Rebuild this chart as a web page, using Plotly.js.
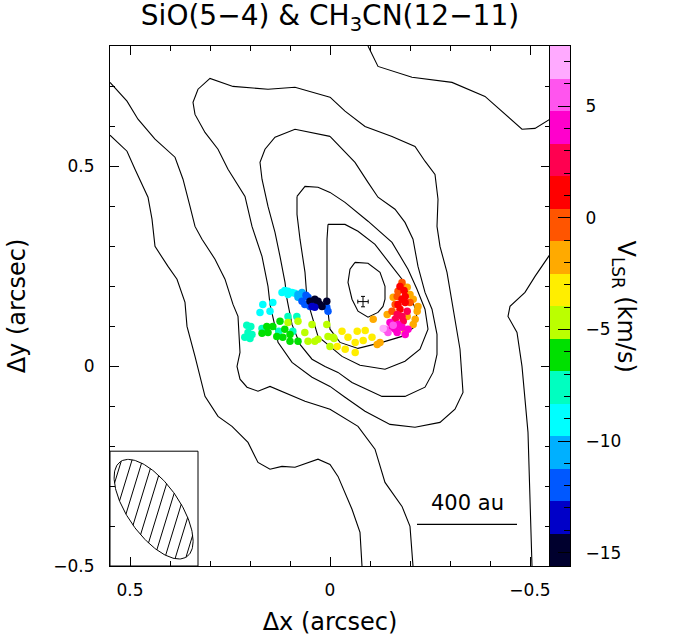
<!DOCTYPE html>
<html>
<head>
<meta charset="utf-8">
<script src="https://cdn.plot.ly/plotly-3.0.1.min.js"></script>
<style>
  html, body { margin: 0; padding: 0; background: #fff; }
  #chart { width: 676px; height: 643px; }
</style>
</head>
<body>
<div id="chart"></div>
<script>
// ---- SiO(5-4) integrated intensity contours (offsets in arcsec, x = east) ----
// open contours that leave the field
const sioArcSEX = [0.55, 0.5075, 0.4875, 0.455, 0.445, 0.4375, 0.405, 0.3825, 0.3625, 0.3575, 0.3375, 0.32, 0.3125, 0.28, 0.245, 0.205, 0.18, 0.15, 0.12, 0.0875, 0.03, 0.0, -0.02, -0.055, -0.075, -0.08];
const sioArcSEY = [0.577, 0.537, 0.492, 0.422, 0.367, 0.299, 0.249, 0.217, 0.159, 0.099, 0.024, -0.041, -0.076, -0.126, -0.151, -0.191, -0.241, -0.258, -0.251, -0.253, -0.233, -0.246, -0.276, -0.358, -0.416, -0.5];
const sioArcEX = [0.55, 0.5075, 0.48, 0.4375, 0.3875, 0.3675, 0.35, 0.3375, 0.32, 0.2875, 0.2625, 0.2425, 0.23, 0.225, 0.2325, 0.225, 0.2075, 0.18, 0.15, 0.12, 0.0625, 0.0, -0.07, -0.1125, -0.1375, -0.18, -0.2, -0.2075];
const sioArcEY = [0.709, 0.662, 0.617, 0.567, 0.522, 0.467, 0.399, 0.349, 0.317, 0.267, 0.217, 0.154, 0.124, 0.034, -0.001, -0.033, -0.053, -0.063, -0.051, -0.063, -0.088, -0.108, -0.151, -0.208, -0.291, -0.351, -0.401, -0.5];
const sioArcNWX = [-0.095, -0.12, -0.205, -0.305, -0.3875, -0.43, -0.48, -0.5125, -0.55];
const sioArcNWY = [0.8, 0.749, 0.722, 0.709, 0.674, 0.637, 0.592, 0.594, 0.617];
const sioArcWX = [-0.55, -0.5125, -0.4875, -0.45, -0.445, -0.4675, -0.48, -0.495, -0.5, -0.505];
const sioArcWY = [0.279, 0.224, 0.184, 0.149, 0.124, 0.084, -0.001, -0.166, -0.333, -0.5];
// closed contours around the peak, outer to inner
const sioLoop1X = [0, -0.0375, -0.0875, -0.155, -0.2125, -0.2375, -0.2625, -0.27, -0.2675, -0.275, -0.2925, -0.305, -0.325, -0.3325, -0.3125, -0.275, -0.2125, -0.15, -0.0875, -0.0375, 0, 0.045, 0.095, 0.13, 0.1375, 0.15, 0.155, 0.17, 0.195, 0.2125, 0.255, 0.28, 0.3125, 0.3375, 0.3425, 0.33, 0.3, 0.2425, 0.155, 0.0875, 0];
const sioLoop1Y = [0.672, 0.637, 0.599, 0.574, 0.549, 0.512, 0.479, 0.417, 0.349, 0.299, 0.234, 0.159, 0.042, -0.066, -0.108, -0.141, -0.153, -0.146, -0.113, -0.078, -0.051, -0.028, 0.009, 0.059, 0.099, 0.154, 0.199, 0.274, 0.349, 0.424, 0.492, 0.542, 0.584, 0.629, 0.659, 0.692, 0.719, 0.699, 0.692, 0.697, 0.672];
const sioLoop2X = [0, -0.03, -0.0625, -0.095, -0.12, -0.1625, -0.1875, -0.2075, -0.22, -0.2375, -0.255, -0.2675, -0.2675, -0.2575, -0.2375, -0.1875, -0.13, -0.055, -0.02, 0.0125, 0.045, 0.075, 0.095, 0.1075, 0.1125, 0.125, 0.1375, 0.155, 0.17, 0.175, 0.1625, 0.1375, 0.0875, 0];
const sioLoop2Y = [0.574, 0.542, 0.509, 0.459, 0.422, 0.392, 0.359, 0.317, 0.249, 0.184, 0.142, 0.079, 0.029, -0.016, -0.053, -0.076, -0.076, -0.041, -0.016, -0.001, 0.017, 0.054, 0.104, 0.167, 0.209, 0.274, 0.334, 0.399, 0.467, 0.509, 0.542, 0.572, 0.592, 0.574];
const sioLoop3X = [0.0825, 0.0625, 0.03, 0, -0.0375, -0.095, -0.155, -0.195, -0.2175, -0.2375, -0.245, -0.225, -0.1875, -0.1375, -0.075, -0.03, 0, 0.03, 0.0575, 0.0625, 0.075, 0.0825, 0.0825];
const sioLoop3Y = [0.424, 0.449, 0.447, 0.434, 0.409, 0.362, 0.309, 0.242, 0.192, 0.142, 0.092, 0.042, 0.012, -0.008, 0.002, 0.024, 0.049, 0.074, 0.167, 0.234, 0.317, 0.379, 0.424];
const sioLoop4X = [0.005, -0.0375, -0.07, -0.1125, -0.155, -0.18, -0.2, -0.2175, -0.2125, -0.18, -0.13, -0.07, -0.025, 0, 0.0075, 0.0075, 0.0075, 0.005];
const sioLoop4Y = [0.354, 0.354, 0.337, 0.304, 0.249, 0.217, 0.174, 0.134, 0.099, 0.074, 0.059, 0.044, 0.059, 0.092, 0.159, 0.267, 0.317, 0.354];
const sioLoop5X = [-0.0625, -0.095, -0.125, -0.1375, -0.1375, -0.1325, -0.12, -0.095, -0.07, -0.055, -0.045, -0.05, -0.0625];
const sioLoop5Y = [0.259, 0.257, 0.234, 0.199, 0.167, 0.149, 0.134, 0.122, 0.137, 0.167, 0.209, 0.242, 0.259];

// ---- CH3CN(12-11) emission spots: position and LSR velocity (km/s) ----
const spotX = [
  0.120, 0.113, 0.105, 0.095, 0.088, 0.105, 0.055,
  0.080, 0.070, 0.080, 0.068,
  0.070, 0.063, 0.055, 0.060, 0.050, 0.008, 0.005,
  0.050, 0.038, 0.030, 0.025, 0.033, 0.008, 0.020,
  0.045, 0.038,
  0.168, 0.143, 0.175, 0.150,
  0.208, 0.198, 0.205, 0.195, 0.213, 0.200, 0.170, 0.105, 0.083, 0.128, 0.093,
  0.125, 0.158, 0.143, 0.170, 0.155, 0.133, 0.118, 0.100, 0.100, 0.080, 0.113,
  0.105, 0.080, 0.045, 0.008, 0.063, 0.030, 0.038, 0.055, 0.005, -0.008, 0.000, -0.010,
  -0.030, -0.045, -0.068, -0.088, -0.083, -0.105, -0.063, -0.038, -0.018, -0.063,
  -0.108, -0.118, -0.125, -0.143, -0.218, -0.220, -0.208, -0.213, -0.193, -0.188, -0.183, -0.193, -0.200, -0.208, -0.158,
  -0.168, -0.170, -0.163, -0.200, -0.180, -0.155,
  -0.175, -0.188, -0.180, -0.188, -0.175, -0.170, -0.185,
  -0.168, -0.180, -0.193, -0.163, -0.183,
  -0.150, -0.155, -0.163, -0.170, -0.180, -0.188, -0.168, -0.195,
  -0.138, -0.145, -0.158,
  -0.133
];
const spotY = [
  0.184, 0.189, 0.187, 0.184, 0.182, 0.179, 0.154,
  0.179, 0.184, 0.172, 0.172,
  0.162, 0.154, 0.172, 0.177, 0.149, 0.147, 0.137,
  0.162, 0.167, 0.162, 0.154, 0.154, 0.162, 0.149,
  0.149, 0.147,
  0.154, 0.159, 0.134, 0.137,
  0.102, 0.099, 0.084, 0.079, 0.072, 0.069, 0.094, 0.124, 0.124, 0.087, 0.087,
  0.112, 0.099, 0.099, 0.082, 0.084, 0.074, 0.072, 0.079, 0.062, 0.062, 0.092,
  0.109, 0.112, 0.104, 0.104, 0.084, 0.067, 0.062, 0.062, 0.074, 0.072, 0.049, 0.069,
  0.087, 0.072, 0.087, 0.089, 0.064, 0.072, 0.059, 0.042, 0.049, 0.034,
  0.117, 0.054, 0.059, 0.129, 0.137, 0.149, 0.104, 0.117, 0.124, 0.084, 0.199, 0.197, 0.179, 0.167, 0.172,
  0.174, 0.187, 0.154, 0.159, 0.209, 0.137,
  0.199, 0.174, 0.167, 0.159, 0.142, 0.154, 0.189,
  0.129, 0.124, 0.137, 0.117, 0.112,
  0.109, 0.097, 0.092, 0.104, 0.097, 0.079, 0.084, 0.092,
  0.092, 0.084, 0.102,
  0.094
];
const spotV = [
  -9.0, -9.0, -9.0, -9.0, -9.0, -9.0, -9.0,
  -10.5, -10.5, -10.5, -10.5,
  -12.0, -12.0, -12.0, -12.0, -12.0, -12.0, -12.0,
  -14.9, -14.9, -14.9, -14.9, -14.9, -14.9, -14.9,
  -13.4, -13.4,
  -9.0, -9.0, -9.0, -9.0,
  -7.6, -7.6, -7.6, -7.6, -7.6, -7.6, -7.6, -7.6, -7.6, -7.6, -7.6,
  -6.1, -6.1, -6.1, -6.1, -6.1, -6.1, -6.1, -6.1, -6.1, -6.1, -6.1,
  -4.7, -4.7, -4.7, -4.7, -4.7, -4.7, -4.7, -4.7, -4.7, -4.7, -4.7, -4.7,
  -3.2, -3.2, -3.2, -3.2, -3.2, -3.2, -3.2, -3.2, -3.2, -3.2,
  -1.8, -1.8, -1.8, -1.8, -1.8, -1.8, -1.8, -1.8, -1.8, -1.8, -1.8, -1.8, -1.8, -1.8, -1.8,
  -0.3, -0.3, -0.3, -0.3, -0.3, -0.3,
  1.1, 1.1, 1.1, 1.1, 1.1, 1.1, 1.1,
  2.6, 2.6, 2.6, 2.6, 2.6,
  4.1, 4.1, 4.1, 4.1, 4.1, 4.1, 4.1, 4.1,
  5.5, 5.5, 5.5,
  7.0
];

// star position
const starX = [-0.0825];
const starY = [0.161];

// velocity colour table (bottom to top) and its range
const vColors = ['#00002e', '#0000c8', '#0058ff', '#00b0ff', '#00ffff', '#00ffc0', '#00e000', '#bbff00',
                 '#ffee00', '#ffaa00', '#ff5500', '#ff0000', '#ff0050', '#ff00cc', '#ff55ee', '#ffaaff'];
const vMin = -15.6, vMax = 7.7;
const vTicks = [-15, -10, -5, 0, 5];

// synthesized beam (arcsec, deg east of north)
const beamMajor = 0.145, beamMinor = 0.065, beamPA = 35;
const beamCenter = [0.441, -0.358];
const beamBox = { x0: 0.55, x1: 0.33, y0: -0.5, y1: -0.213 };

// linear scale bar
const scaleBarStart = -0.2175, scaleBarLength = 0.25, scaleBarY = -0.396, scaleBarText = '400 au';

// ---------------------------------------------------------------------------
const FONT = 'DejaVu Sans, Arial, sans-serif';

const nBand = vColors.length;
const vStep = (vMax - vMin) / nBand;
const colorscale = [];
vColors.forEach((c, i) => { colorscale.push([i / nBand, c]); colorscale.push([(i + 1) / nBand, c]); });
const bandCenters = vColors.map((_, i) => vMin + (i + 0.5) * vStep);

const traces = [];
const contours = [
  [sioArcSEX, sioArcSEY], [sioArcEX, sioArcEY], [sioArcNWX, sioArcNWY], [sioArcWX, sioArcWY],
  [sioLoop1X, sioLoop1Y], [sioLoop2X, sioLoop2Y], [sioLoop3X, sioLoop3Y], [sioLoop4X, sioLoop4Y], [sioLoop5X, sioLoop5Y]
];
contours.forEach(([x, y]) => traces.push({
  type: 'scatter', mode: 'lines', x, y,
  line: { color: '#000', width: 1.1 }, hoverinfo: 'skip', showlegend: false
}));

// beam ellipse and hatching
const pa = beamPA * Math.PI / 180;
const u = [Math.sin(pa), Math.cos(pa)];      // major axis direction
const v = [Math.cos(pa), -Math.sin(pa)];     // minor axis direction
const ex = [], ey = [];
for (let i = 0; i <= 180; i++) {
  const t = i / 180 * 2 * Math.PI;
  ex.push(beamCenter[0] + beamMajor * Math.cos(t) * u[0] + beamMinor * Math.sin(t) * v[0]);
  ey.push(beamCenter[1] + beamMajor * Math.cos(t) * u[1] + beamMinor * Math.sin(t) * v[1]);
}
traces.push({ type: 'scatter', mode: 'lines', x: ex, y: ey, line: { color: '#000', width: 1 }, hoverinfo: 'skip', showlegend: false });

const hatchAngle = 73 * Math.PI / 180, hatchGap = 0.025;
const d = [-Math.cos(hatchAngle), Math.sin(hatchAngle)];
const n = [d[1], -d[0]];
const dot = (p, q) => p[0] * q[0] + p[1] * q[1];
const A1 = dot(n, u), A2 = dot(d, u), B1 = dot(n, v), B2 = dot(d, v);
const hx = [], hy = [];
for (let k = -6; k <= 5; k++) {
  const s = (k + 0.5) * hatchGap;
  const qa = A2 * A2 / beamMajor ** 2 + B2 * B2 / beamMinor ** 2;
  const qb = 2 * s * (A1 * A2 / beamMajor ** 2 + B1 * B2 / beamMinor ** 2);
  const qc = s * s * (A1 * A1 / beamMajor ** 2 + B1 * B1 / beamMinor ** 2) - 1;
  const disc = qb * qb - 4 * qa * qc;
  if (disc <= 0) continue;
  [(-qb - Math.sqrt(disc)) / (2 * qa), (-qb + Math.sqrt(disc)) / (2 * qa)].forEach(t => {
    hx.push(beamCenter[0] + s * n[0] + t * d[0]);
    hy.push(beamCenter[1] + s * n[1] + t * d[1]);
  });
  hx.push(null); hy.push(null);
}
traces.push({ type: 'scatter', mode: 'lines', x: hx, y: hy, line: { color: '#000', width: 1 }, hoverinfo: 'skip', showlegend: false });

// scale bar
traces.push({ type: 'scatter', mode: 'lines', x: [scaleBarStart, scaleBarStart - scaleBarLength], y: [scaleBarY, scaleBarY],
  line: { color: '#000', width: 1.2 }, hoverinfo: 'skip', showlegend: false });

// CH3CN spots coloured by velocity
traces.push({
  type: 'scatter', mode: 'markers', x: spotX, y: spotY,
  marker: { size: 7.5, color: spotV, colorscale, cmin: vMin, cmax: vMax, showscale: false, line: { width: 0 } },
  hoverinfo: 'skip', showlegend: false
});

// star
traces.push({
  type: 'scatter', mode: 'markers', x: starX, y: starY,
  marker: { size: 1, color: 'rgba(0,0,0,0)' },
  error_x: { type: 'constant', value: 0.013, color: '#000', thickness: 1, width: 2 },
  error_y: { type: 'constant', value: 0.013, color: '#000', thickness: 1, width: 2 },
  hoverinfo: 'skip', showlegend: false
});

// velocity wedge
traces.push({
  type: 'heatmap', xaxis: 'x2', yaxis: 'y2',
  x: [0.5], y: bandCenters, z: bandCenters.map(b => [b]),
  colorscale, zmin: vMin, zmax: vMax, showscale: false, hoverinfo: 'skip'
});

const tickFont = { family: FONT, size: 17, color: '#000' };
const mainW = 440, wedgeW = 20;
const split = mainW / (mainW + wedgeW);

const layout = {
  width: 676, height: 643,
  margin: { l: 110, r: 106, t: 46, b: 77 },
  paper_bgcolor: '#fff', plot_bgcolor: '#fff',
  showlegend: false,
  title: {
    text: 'SiO(5−4) &amp; CH<sub>3</sub>CN(12−11)',
    font: { family: FONT, size: 28, color: '#000' },
    xref: 'container', x: 330 / 676, xanchor: 'center',
    yref: 'container', y: 0.992, yanchor: 'top'
  },
  xaxis: {
    domain: [0, split], range: [0.55, -0.55], tick0: 0, dtick: 0.5,
    ticks: 'inside', ticklen: 9, tickcolor: '#000', tickwidth: 1,
    minor: { dtick: 0.1, ticks: 'inside', ticklen: 5, tickcolor: '#000' },
    showline: true, linecolor: '#000', linewidth: 1, mirror: 'ticks',
    showgrid: false, zeroline: false, tickfont: tickFont, ticklabelstandoff: 9,
    title: { text: 'Δx (arcsec)', font: { family: FONT, size: 24, color: '#000' }, standoff: 13 },
    fixedrange: true
  },
  yaxis: {
    domain: [0, 1], range: [-0.5, 0.8], tick0: 0, dtick: 0.5,
    ticks: 'inside', ticklen: 9, tickcolor: '#000', tickwidth: 1,
    minor: { dtick: 0.1, ticks: 'inside', ticklen: 5, tickcolor: '#000' },
    showline: true, linecolor: '#000', linewidth: 1, mirror: 'ticks',
    showgrid: false, zeroline: false, tickfont: tickFont, ticklabelstandoff: 11,
    title: { text: 'Δy (arcsec)', font: { family: FONT, size: 24, color: '#000' }, standoff: 20 },
    fixedrange: true
  },
  xaxis2: {
    domain: [split, 1], anchor: 'y2', range: [0, 1],
    showticklabels: false, ticks: '', showgrid: false, zeroline: false,
    showline: true, linecolor: '#000', linewidth: 1, mirror: true, fixedrange: true
  },
  yaxis2: {
    domain: [0, 1], anchor: 'x2', side: 'right', range: [vMin, vMax],
    tickvals: vTicks, ticks: 'inside', ticklen: 12, tickcolor: '#000',
    minor: { dtick: 1, tick0: 0, ticks: 'inside', ticklen: 6, tickcolor: '#000' },
    showline: true, linecolor: '#000', linewidth: 1, mirror: true,
    showgrid: false, zeroline: false, tickfont: tickFont, ticklabelstandoff: 11, fixedrange: true
  },
  shapes: [
    { type: 'rect', xref: 'x', yref: 'y', x0: beamBox.x0, x1: beamBox.x1, y0: beamBox.y0, y1: beamBox.y1,
      line: { color: '#000', width: 1 }, fillcolor: 'rgba(0,0,0,0)' }
  ],
  annotations: [
    { xref: 'x', yref: 'y', x: scaleBarStart - scaleBarLength / 2, y: scaleBarY, yshift: 21,
      text: scaleBarText, showarrow: false, font: { family: FONT, size: 21, color: '#000' } },
    { xref: 'paper', yref: 'paper', x: (642 - 110) / 460, y: 0.5, textangle: 90,
      text: 'V<sub>LSR</sub> (km/s)', showarrow: false, font: { family: FONT, size: 24, color: '#000' } }
  ]
};

Plotly.newPlot('chart', traces, layout, { staticPlot: true, displayModeBar: false });
</script>
</body>
</html>
